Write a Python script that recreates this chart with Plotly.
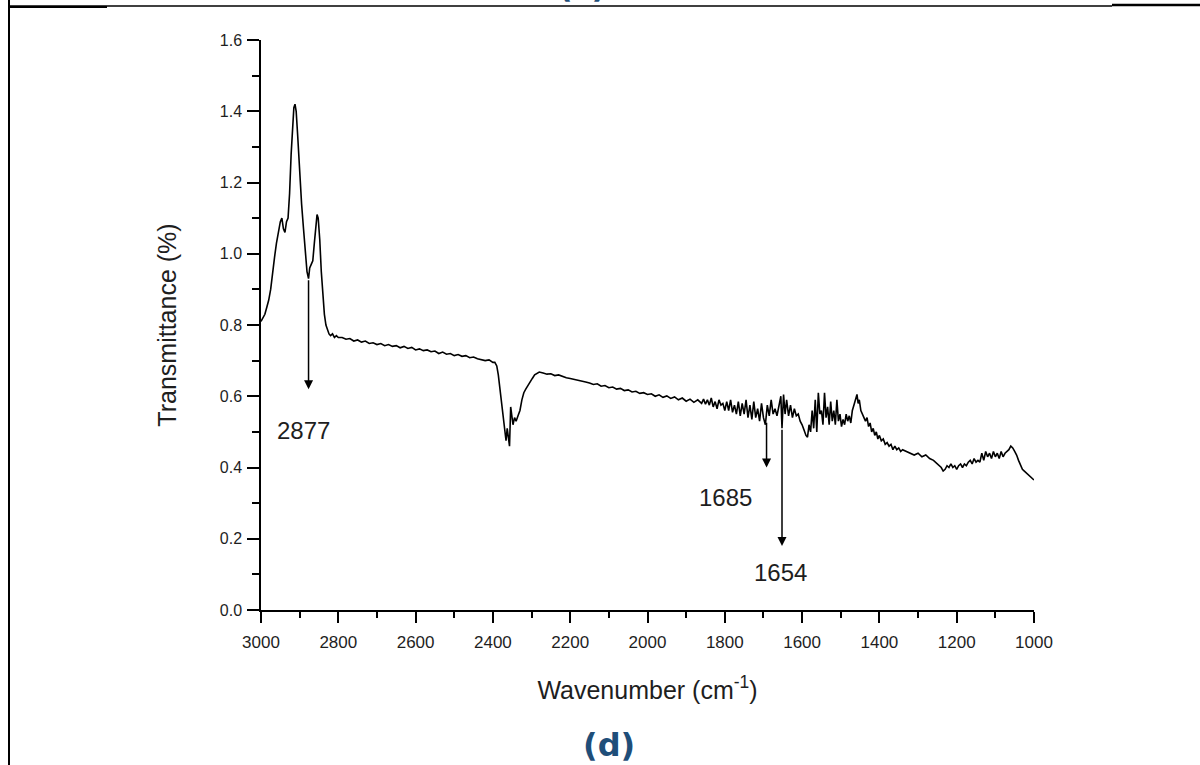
import plotly.graph_objects as go

# ---- data ----
wavenumber = [
    3000, 2995, 2990, 2985, 2980, 2975, 2970, 2965, 2960, 2955, 2950, 2946, 2942, 2938, 2934, 2930,
    2926, 2922, 2918, 2915, 2912, 2909, 2905, 2900, 2895, 2890, 2885, 2881, 2877, 2874, 2870, 2866,
    2862, 2858, 2855, 2852, 2848, 2844, 2840, 2836, 2832, 2828, 2824, 2820, 2815, 2810, 2805, 2800,
    2790, 2780, 2770, 2760, 2750, 2740, 2730, 2720, 2710, 2700, 2690, 2680, 2670, 2660, 2650, 2640,
    2630, 2620, 2610, 2600, 2590, 2580, 2570, 2560, 2550, 2540, 2530, 2520, 2510, 2500, 2490, 2480,
    2470, 2460, 2450, 2440, 2430, 2420, 2410, 2400,
    2395, 2390, 2386, 2382, 2378, 2374, 2370, 2366, 2363, 2360, 2357, 2354, 2351, 2348, 2344, 2340,
    2335, 2330, 2325, 2320, 2315, 2310, 2304, 2298, 2292, 2286, 2280, 2270, 2260, 2250, 2240, 2230,
    2220, 2210, 2200,
    2190, 2180, 2170, 2160, 2150, 2140, 2130, 2120, 2110, 2100, 2090, 2080, 2070, 2060, 2050, 2040,
    2030, 2020, 2010, 2000, 1990, 1980, 1970, 1960, 1950, 1940, 1930, 1920, 1910, 1900, 1890, 1880,
    1870, 1860, 1855, 1850,
    1845, 1840, 1835, 1830, 1825, 1820, 1815, 1810, 1805, 1800, 1795, 1790, 1785, 1780, 1775, 1770,
    1765, 1760, 1755, 1750, 1745, 1740, 1735, 1730, 1725, 1720, 1715, 1710, 1705, 1700, 1695, 1690,
    1685, 1680, 1675, 1670, 1665, 1660, 1655, 1652, 1648, 1644, 1640, 1635, 1630, 1625, 1620, 1615,
    1610, 1605, 1600, 1595, 1590, 1586, 1582, 1578, 1574, 1570, 1566, 1562, 1558, 1554, 1550, 1546,
    1542, 1538, 1534, 1530, 1526, 1522, 1518, 1514, 1510, 1506, 1502, 1498, 1494, 1490, 1486, 1482,
    1478, 1474, 1470, 1466, 1462, 1458, 1455, 1452, 1448, 1444, 1440, 1436, 1432, 1428, 1424, 1420,
    1416, 1412, 1408, 1404, 1400, 1395, 1390, 1385, 1380, 1375, 1370, 1365, 1360, 1355, 1350, 1345,
    1340, 1330, 1320, 1310, 1300, 1290, 1280, 1270, 1260, 1250, 1240, 1235, 1230, 1225, 1220, 1215,
    1210, 1205, 1200, 1195, 1190, 1185, 1180, 1175, 1170, 1165, 1160, 1155, 1150, 1145, 1140, 1135,
    1130, 1125, 1120, 1115, 1110, 1105, 1100, 1095, 1090, 1085, 1080, 1075, 1070, 1065, 1060, 1055,
    1050, 1045, 1040, 1035, 1030, 1025, 1020, 1015, 1010, 1005, 1000,
]
transmittance = [
    0.81, 0.82, 0.83, 0.85, 0.87, 0.90, 0.95, 0.99, 1.03, 1.06, 1.09, 1.10, 1.07, 1.06, 1.09, 1.10,
    1.17, 1.28, 1.37, 1.41, 1.42, 1.40, 1.33, 1.22, 1.14, 1.07, 1.00, 0.95, 0.93, 0.96, 0.97, 0.98,
    1.03, 1.09, 1.11, 1.10, 1.04, 0.95, 0.88, 0.83, 0.80, 0.785, 0.775, 0.77, 0.775, 0.765, 0.77, 0.765,
    0.765, 0.76, 0.762, 0.755, 0.758, 0.752, 0.755, 0.748, 0.75, 0.745, 0.748, 0.742, 0.745, 0.74, 0.742, 0.736,
    0.74, 0.734, 0.737, 0.73, 0.733, 0.728, 0.73, 0.725, 0.727, 0.72, 0.724, 0.718, 0.72, 0.714, 0.717, 0.712,
    0.714, 0.708, 0.71, 0.705, 0.703, 0.70, 0.702, 0.695,
    0.695, 0.685, 0.66, 0.62, 0.58, 0.55, 0.51, 0.475, 0.51, 0.48, 0.46, 0.57, 0.55, 0.52, 0.54, 0.53,
    0.545, 0.56, 0.59, 0.61, 0.62, 0.63, 0.64, 0.65, 0.66, 0.665, 0.668, 0.665, 0.662, 0.663, 0.658, 0.66,
    0.655, 0.652, 0.65,
    0.648, 0.645, 0.642, 0.64, 0.637, 0.633, 0.635, 0.628, 0.63, 0.624, 0.626, 0.62, 0.622, 0.616, 0.618, 0.612,
    0.614, 0.608, 0.61, 0.605, 0.607, 0.60, 0.604, 0.597, 0.601, 0.594, 0.598, 0.59, 0.595, 0.586, 0.592, 0.583,
    0.59, 0.58, 0.592, 0.578,
    0.59, 0.575, 0.595, 0.57, 0.585, 0.565, 0.59, 0.575, 0.58, 0.56, 0.585, 0.56, 0.59, 0.555, 0.575, 0.55,
    0.585, 0.545, 0.58, 0.55, 0.59, 0.54, 0.575, 0.535, 0.585, 0.54, 0.565, 0.53, 0.58, 0.54, 0.52, 0.575,
    0.545, 0.59, 0.55, 0.565, 0.545, 0.57, 0.60, 0.51, 0.605, 0.55, 0.59, 0.545, 0.575, 0.54, 0.565, 0.545,
    0.55, 0.53, 0.52, 0.505, 0.49, 0.485, 0.52, 0.50, 0.56, 0.51, 0.59, 0.50, 0.61, 0.55, 0.56, 0.52,
    0.61, 0.54, 0.57, 0.52, 0.585, 0.53, 0.56, 0.52, 0.59, 0.53, 0.55, 0.515, 0.535, 0.52, 0.55, 0.53,
    0.545, 0.525, 0.56, 0.575, 0.59, 0.605, 0.58, 0.59, 0.56, 0.55, 0.545, 0.53, 0.54, 0.515, 0.525, 0.50,
    0.51, 0.49, 0.50, 0.48, 0.49, 0.475, 0.48, 0.465, 0.47, 0.46, 0.465, 0.45, 0.46, 0.45, 0.455, 0.445,
    0.45, 0.445, 0.44, 0.435, 0.44, 0.43, 0.435, 0.425, 0.42, 0.41, 0.40, 0.39, 0.395, 0.405, 0.40, 0.41,
    0.40, 0.405, 0.395, 0.405, 0.41, 0.40, 0.41, 0.405, 0.415, 0.42, 0.41, 0.425, 0.415, 0.42, 0.415, 0.44,
    0.42, 0.445, 0.43, 0.44, 0.425, 0.445, 0.43, 0.44, 0.425, 0.445, 0.43, 0.44, 0.445, 0.45, 0.46, 0.455,
    0.445, 0.435, 0.42, 0.405, 0.395, 0.39, 0.385, 0.38, 0.375, 0.37, 0.365,
]

# peak markers
peak_labels = ["2877", "1685", "1654"]
peak_arrow_x = [2877, 1692, 1652]
peak_arrow_from = [0.93, 0.53, 0.51]
peak_arrow_to = [0.62, 0.40, 0.18]
peak_label_x = [2891, 1799, 1655]
peak_label_y = [0.505, 0.317, 0.104]

x_ticks = [3000, 2800, 2600, 2400, 2200, 2000, 1800, 1600, 1400, 1200, 1000]
y_ticks = [0.0, 0.2, 0.4, 0.6, 0.8, 1.0, 1.2, 1.4, 1.6]

FONT = "Liberation Sans, Arial, sans-serif"
TXT = "#1e1e1e"

fig = go.Figure()
fig.add_trace(go.Scatter(x=wavenumber, y=transmittance, mode="lines",
                         line=dict(color="black", width=1.6), showlegend=False,
                         hoverinfo="skip"))

annotations = []
for lab, ax_, y0, y1, lx, ly in zip(peak_labels, peak_arrow_x, peak_arrow_from,
                                     peak_arrow_to, peak_label_x, peak_label_y):
    annotations.append(dict(x=ax_, y=y1, ax=ax_, ay=y0, xref="x", yref="y",
                            axref="x", ayref="y", text="", showarrow=True,
                            arrowhead=2, arrowsize=1.2, arrowwidth=1.5,
                            arrowcolor="black", standoff=0, startstandoff=0))
    annotations.append(dict(x=lx, y=ly, xref="x", yref="y", text=lab,
                            showarrow=False, font=dict(family=FONT, size=24, color=TXT)))


def px2paper_x(px):
    return (px - 261) / 773.0


def px2paper_y(py):
    return (610 - py) / 570.0


annotations.append(dict(x=px2paper_x(609), y=px2paper_y(766), xref="paper", yref="paper",
                        text="<b>(d)</b>", showarrow=False,
                        font=dict(family="DejaVu Sans, Verdana, sans-serif", size=32,
                                  color="#1F4E79")))
annotations.append(dict(x=px2paper_x(582), y=px2paper_y(7), xref="paper", yref="paper",
                        yanchor="bottom", text="<b>(c)</b>", showarrow=False,
                        font=dict(family="DejaVu Sans, Verdana, sans-serif", size=32,
                                  color="#1F4E79")))

shapes = [
    dict(type="line", xref="paper", yref="paper", x0=px2paper_x(8), x1=px2paper_x(1112),
         y0=px2paper_y(6), y1=px2paper_y(6), line=dict(color="black", width=1.5)),
    dict(type="line", xref="paper", yref="paper", x0=px2paper_x(9), x1=px2paper_x(107),
         y0=px2paper_y(7), y1=px2paper_y(7), line=dict(color="black", width=2)),
    dict(type="line", xref="paper", yref="paper", x0=px2paper_x(1112), x1=px2paper_x(1200),
         y0=px2paper_y(5), y1=px2paper_y(5), line=dict(color="black", width=2.5)),
    dict(type="line", xref="paper", yref="paper", x0=px2paper_x(9), x1=px2paper_x(9),
         y0=px2paper_y(0), y1=px2paper_y(765), line=dict(color="black", width=2)),
]

fig.update_layout(
    width=1200, height=765,
    margin=dict(l=261, r=166, t=40, b=155, pad=0),
    paper_bgcolor="white", plot_bgcolor="white",
    annotations=annotations, shapes=shapes,
    font=dict(family=FONT, color=TXT),
)
fig.update_xaxes(
    range=[3000, 1000], autorange=False, tickvals=x_ticks,
    ticktext=[str(v) for v in x_ticks],
    showline=True, linecolor="black", linewidth=1.5, mirror=False,
    ticks="outside", ticklen=11, tickwidth=1.5, tickcolor="black",
    minor=dict(ticks="outside", ticklen=6, tickwidth=1.5, tickcolor="black", dtick=100, showgrid=False),
    showgrid=False, zeroline=False, ticklabelstandoff=5,
    tickfont=dict(family=FONT, size=17, color=TXT),
    title=dict(text="Wavenumber (cm<sup>-1</sup>)", font=dict(family=FONT, size=25, color=TXT),
               standoff=30),
)
fig.update_yaxes(
    range=[0, 1.6], autorange=False, tickvals=y_ticks,
    ticktext=["%.1f" % v for v in y_ticks],
    showline=True, linecolor="black", linewidth=1.5, mirror=False,
    ticks="outside", ticklen=12, tickwidth=1.5, tickcolor="black",
    minor=dict(ticks="outside", ticklen=7, tickwidth=1.5, tickcolor="black", dtick=0.1, showgrid=False),
    showgrid=False, zeroline=False, ticklabelstandoff=2,
    tickfont=dict(family=FONT, size=16, color=TXT),
    title=dict(text="Transmittance (%)", font=dict(family=FONT, size=25, color=TXT), standoff=36),
)

fig.write_html("out.html", config={"displayModeBar": False},
               post_script="document.body.style.margin='0px';")
